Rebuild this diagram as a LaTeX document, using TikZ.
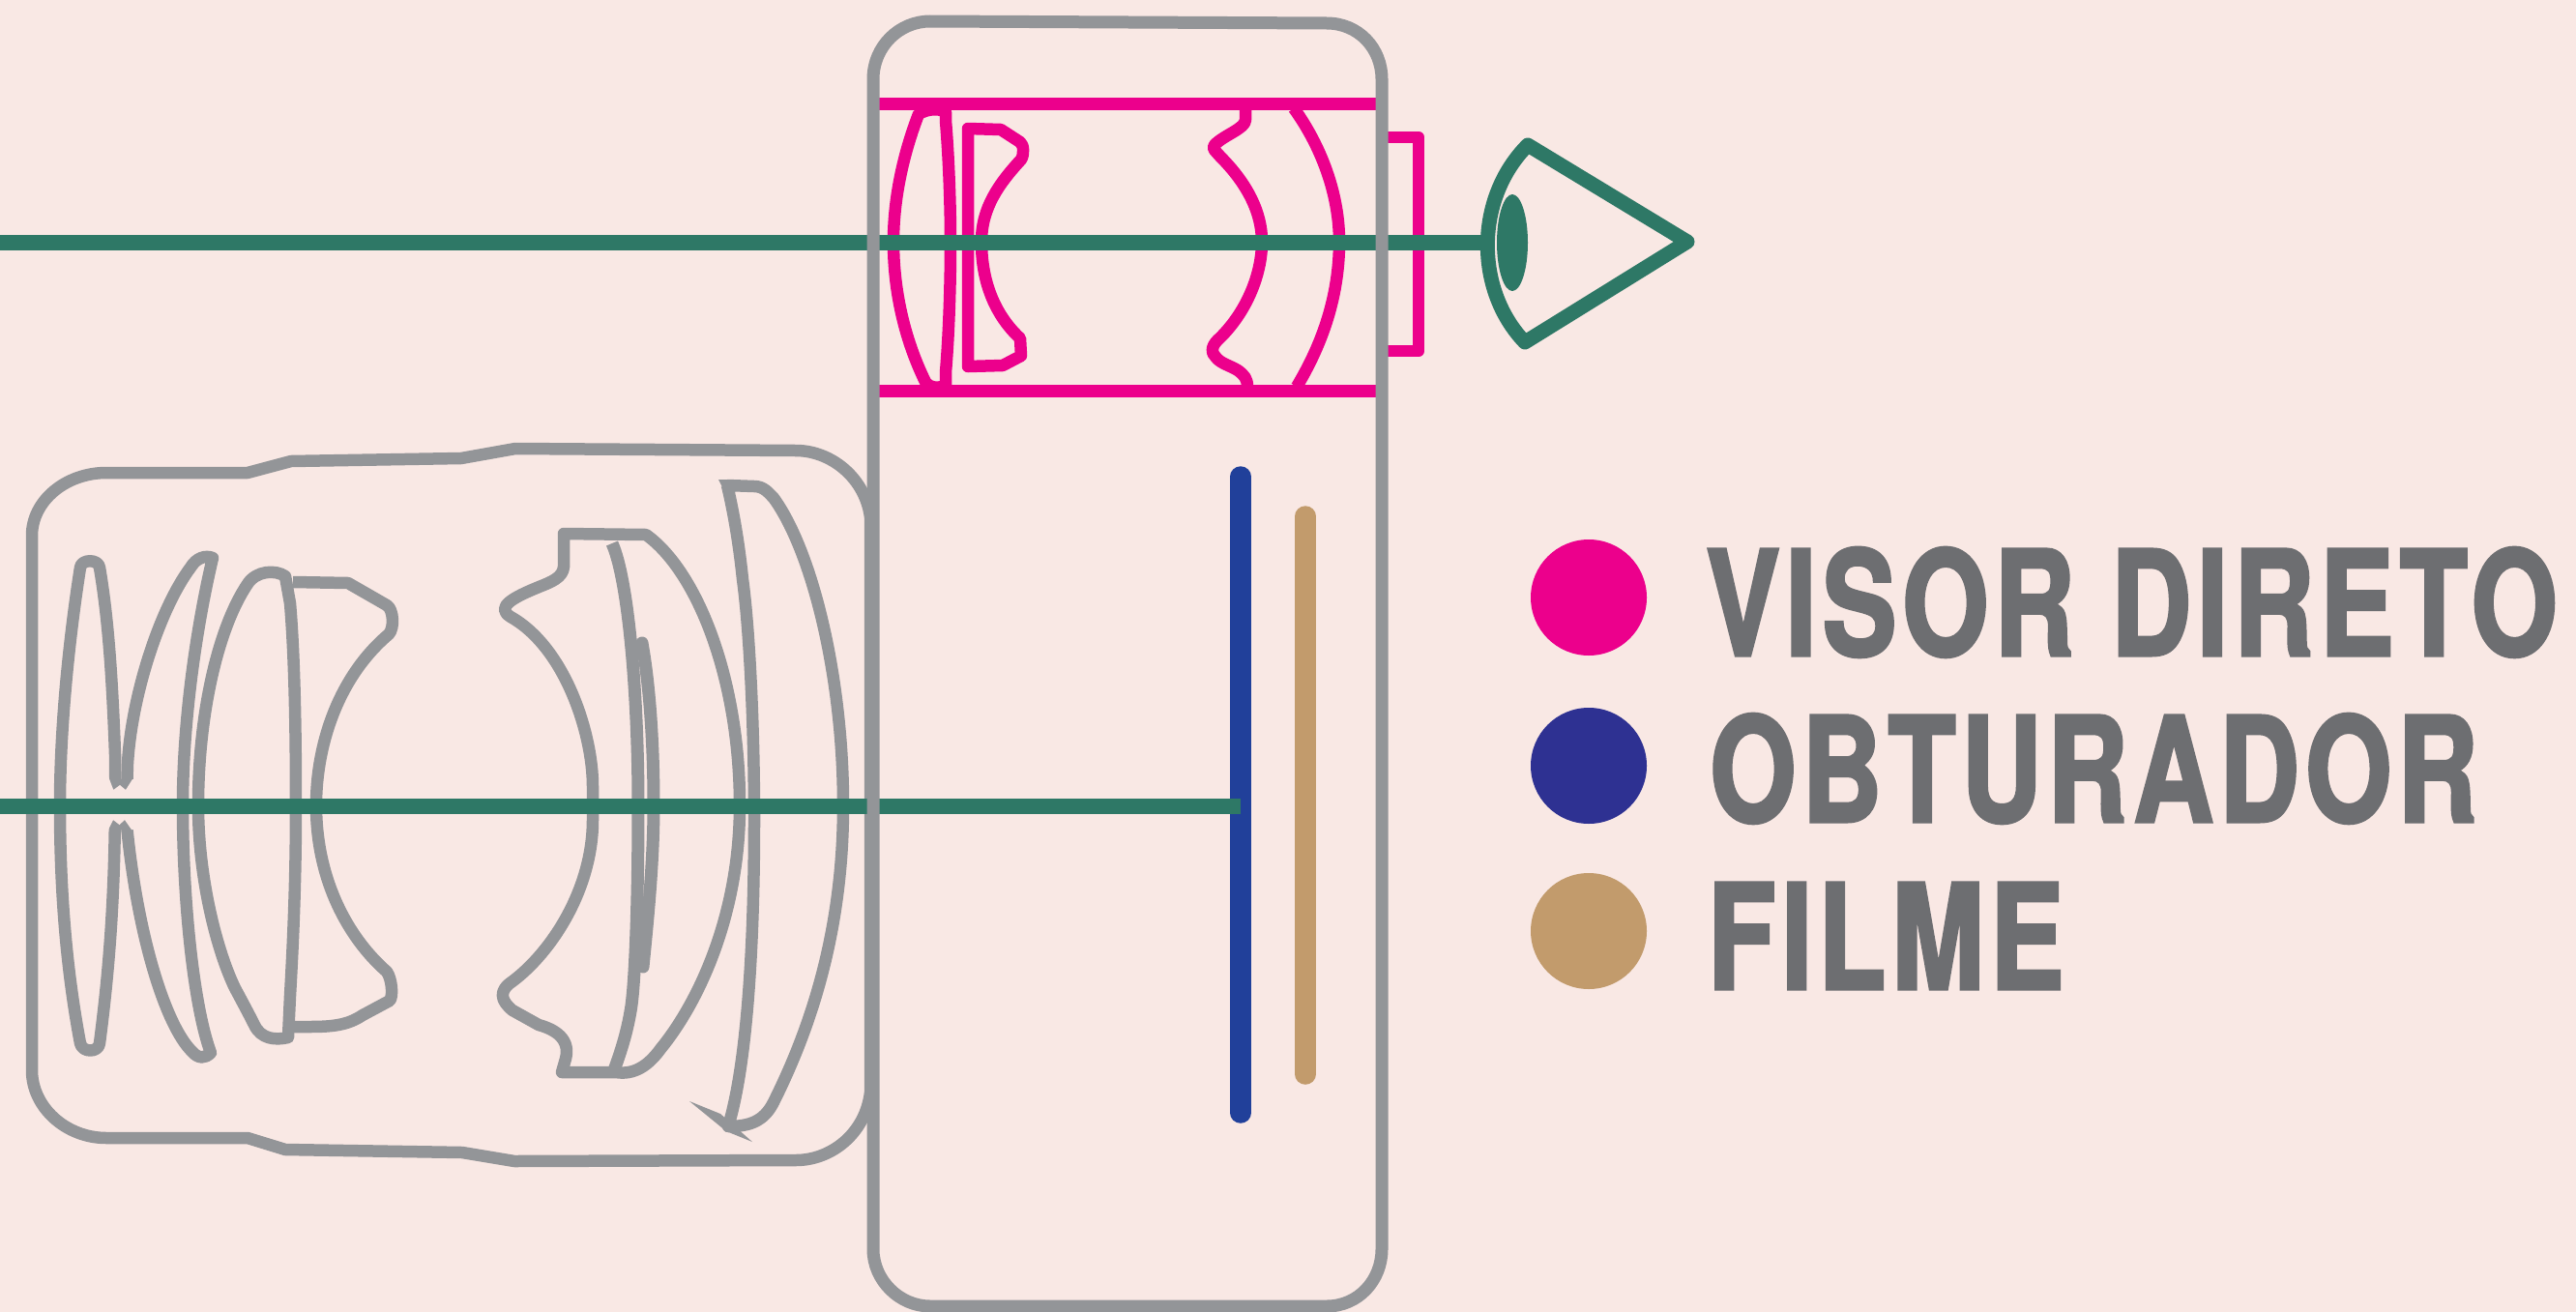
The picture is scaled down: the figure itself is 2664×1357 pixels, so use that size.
\documentclass[tikz,border=0pt]{standalone}
\usepackage{fontspec}
\newfontfamily\lab{TeX Gyre Heros}[FakeStretch=0.76,LetterSpace=4,FakeBold=2]
\definecolor{bg}{HTML}{F9E8E4}
\definecolor{gr}{HTML}{939598}
\definecolor{mg}{HTML}{EC008C}
\definecolor{gn}{HTML}{2E7866}
\definecolor{bl}{HTML}{21409A}
\definecolor{nv}{HTML}{2E3192}
\definecolor{tn}{HTML}{C29B6C}
\definecolor{tx}{HTML}{6D6E71}
\tikzset{
  lensg/.style={draw=gr,line width=12.5pt,line join=round},
  lensm/.style={draw=mg,line width=12.5pt,line join=round},
  body/.style={draw=gr,line width=13pt},
  axis/.style={draw=gn,line width=15.7pt},
  dot/.style={circle,inner sep=0pt,minimum size=120pt},
  legend/.style={anchor=base west,inner sep=0pt,text=tx,font=\fontsize{151pt}{151pt}\lab\bfseries}
}
\begin{document}
\begin{tikzpicture}[x=1pt,y=-1pt]
\useasboundingbox (0,0) rectangle (2664,1357);
\fill[bg] (0,0) rectangle (2664,1357);
% barrel
\draw[lensg] (900,535) .. controls (895,495) and (860,466) .. (823,466) -- (533,464) -- (477,474) -- (301,477) -- (256,489) -- (110,489)
  .. controls (68,489) and (33,518) .. (33,554) -- (33,1107)
  .. controls (33,1145) and (68,1177) .. (110,1177) -- (256,1177) -- (295,1189) -- (478,1192) -- (532,1201) -- (823,1200)
  .. controls (860,1200) and (895,1172) .. (900,1130) -- cycle;
% left group
\draw[lensg] (119,822) -- (119,780) .. controls (116,700) and (112,640) .. (103,587)
  .. controls (102,578) and (84,578) .. (83,587)
  .. controls (70,670) and (62,760) .. (62,833) .. controls (62,930) and (70,1010) .. (83,1079)
  .. controls (85,1089) and (102,1089) .. (103,1079)
  .. controls (112,1010) and (118,940) .. (119,842);
\draw[lensg] (131,822) -- (132,790) .. controls (136,720) and (165,630) .. (197,587)
  .. controls (203,577) and (212,574) .. (220,577)
  .. controls (205,640) and (189,740) .. (189,833) .. controls (189,930) and (200,1040) .. (218,1089)
  .. controls (212,1095) and (205,1095) .. (199,1088) .. controls (170,1060) and (140,960) .. (130,842);
\fill[bg] (108,803) -- (112,803) -- (117.3,817) -- (124,812) -- (130,817) -- (137,806) -- (141,806) -- (141,826) -- (108,826) -- cycle;
\fill[bg] (108,858) -- (112,858) -- (117,848) -- (123.5,853) -- (129,848) -- (136,858) -- (141,858) -- (141,838) -- (108,838) -- cycle;
\draw[lensg] (295,596) .. controls (285,589) and (265,590) .. (256,604)
  .. controls (225,650) and (205,740) .. (205,833) .. controls (205,910) and (225,985) .. (243,1022)
  .. controls (250,1035) and (258,1050) .. (263,1060) .. controls (270,1075) and (285,1076) .. (298,1073)
  -- (300,1030) .. controls (304,960) and (306,900) .. (306,833) .. controls (306,740) and (304,670) .. (300,624) -- cycle;
\draw[lensg] (303,602) -- (360,603) -- (400,626) .. controls (407,630) and (408,650) .. (402,656)
  .. controls (350,700) and (327,770) .. (327,833) .. controls (327,910) and (360,970) .. (400,1005)
  .. controls (405,1012) and (407,1030) .. (403,1035) -- (375,1050) .. controls (360,1060) and (345,1062) .. (320,1062) -- (302,1062);
% right group
\draw[lensg] (583,552) -- (668,553) .. controls (720,590) and (765,700) .. (765,833)
  .. controls (765,950) and (720,1040) .. (683,1085) .. controls (670,1103) and (655,1112) .. (637,1109) -- (581,1109)
  -- (585,1095) .. controls (590,1075) and (575,1065) .. (557,1060) -- (530,1045)
  .. controls (518,1035) and (515,1025) .. (530,1015) .. controls (570,985) and (613,920) .. (613,848) -- (613,813)
  .. controls (613,760) and (585,670) .. (528,638) .. controls (512,628) and (530,618) .. (560,606)
  .. controls (575,600) and (585,595) .. (583,580) -- cycle;
\draw[lensg,line width=13pt] (633,562) .. controls (650,600) and (660,720) .. (660,833)
  .. controls (660,930) and (657,1010) .. (653,1040) .. controls (650,1060) and (645,1080) .. (635,1107);
\draw[lensg,line width=13pt,line cap=round] (664,665) .. controls (672,710) and (676,770) .. (676,833) .. controls (676,890) and (670,950) .. (665,1000);
\draw[lensg] (752,502) -- (780,503) .. controls (790,503) and (795,510) .. (800,515)
  .. controls (840,570) and (872,700) .. (872,833) .. controls (872,960) and (840,1060) .. (800,1140)
  .. controls (790,1160) and (775,1165) .. (753,1165)
  .. controls (770,1110) and (780,1000) .. (780,848) .. controls (780,750) and (775,650) .. (768,599)
  .. controls (765,570) and (760,535) .. (752,502);
\fill[gr] (743,496) -- (760,496) -- (760,510) -- (750,510) -- cycle;
\fill[gr] (713,1139) -- (745,1152) -- (753,1159) -- (778,1181) -- (751,1170) -- cycle;
% magenta viewfinder
\draw[lensm] (1430,142) -- (1467,142) -- (1467,363) -- (1430,363);
\draw[lensm] (950,118) .. controls (932,165) and (924,210) .. (924,250) .. controls (924,300) and (935,350) .. (957,395)
  .. controls (962,402) and (972,402) .. (978,398) -- (978,385) .. controls (981,350) and (983,300) .. (983,250)
  .. controls (983,210) and (981,160) .. (978,125) -- (978,116) .. controls (972,112) and (960,112) .. (950,118) -- cycle;
\draw[lensm] (1001,133) -- (1035,134) -- (1055,147) .. controls (1059,150) and (1059,160) .. (1056,165)
  .. controls (1033,190) and (1015,215) .. (1015,250) .. controls (1015,290) and (1028,325) .. (1055,350)
  -- (1056,368) -- (1037,378) -- (1001,379) -- cycle;
\draw[lensm] (1288,112) -- (1288,124) .. controls (1288,133) and (1265,140) .. (1256,150)
  .. controls (1253,154) and (1257,156) .. (1262,162) .. controls (1290,190) and (1305,220) .. (1305,250)
  .. controls (1305,285) and (1288,325) .. (1259,352) .. controls (1253,358) and (1252,365) .. (1257,369)
  .. controls (1262,376) and (1272,378) .. (1280,383) .. controls (1287,388) and (1290,392) .. (1290,400);
\draw[lensm] (1338,112) .. controls (1362,145) and (1385,195) .. (1385,250) .. controls (1385,310) and (1365,360) .. (1341,400);
\draw[draw=mg,line width=13pt] (905,107) -- (1428,107);
\draw[draw=mg,line width=13pt] (905,404) -- (1428,404);
% film and shutter
\draw[draw=bl,line width=21.5pt,line cap=round] (1283,493) -- (1283,1151);
\draw[draw=tn,line width=21.5pt,line cap=round] (1350,534) -- (1350,1111);
% green axes
\coordinate (aL) at (0,251); \coordinate (aE) at (1532,251);
\coordinate (bL) at (0,834); \coordinate (bE) at (1283,834);
\draw[axis] (aL) -- (aE);
\draw[axis] (bL) -- (bE);
% eye
\draw[draw=gn,line width=15pt,line join=round] (1580,150) -- (1745,250) -- (1577,354)
  .. controls (1525,300) and (1525,205) .. (1580,150) -- cycle;
\fill[gn] (1564,251) ellipse [x radius=16, y radius=50];
% body
\draw[body] (903,82) .. controls (903,48) and (930,22) .. (962,22) -- (1372,24)
  .. controls (1405,24) and (1429,50) .. (1429,82) -- (1429,1292)
  .. controls (1429,1324) and (1405,1351) .. (1372,1351) -- (962,1351)
  .. controls (930,1351) and (903,1324) .. (903,1292) -- cycle;
% legend
\node[dot,fill=mg] (d1) at (1643,618) {};
\node[dot,fill=nv] (d2) at (1643,792) {};
\node[dot,fill=tn] (d3) at (1643,963) {};
\node[legend] (t1) at (1764,678) {VISOR DIRETO};
\node[legend] (t2) at (1768,850) {OBTURADOR};
\node[legend] (t3) at (1766,1023) {FILME};
\end{tikzpicture}
\end{document}
